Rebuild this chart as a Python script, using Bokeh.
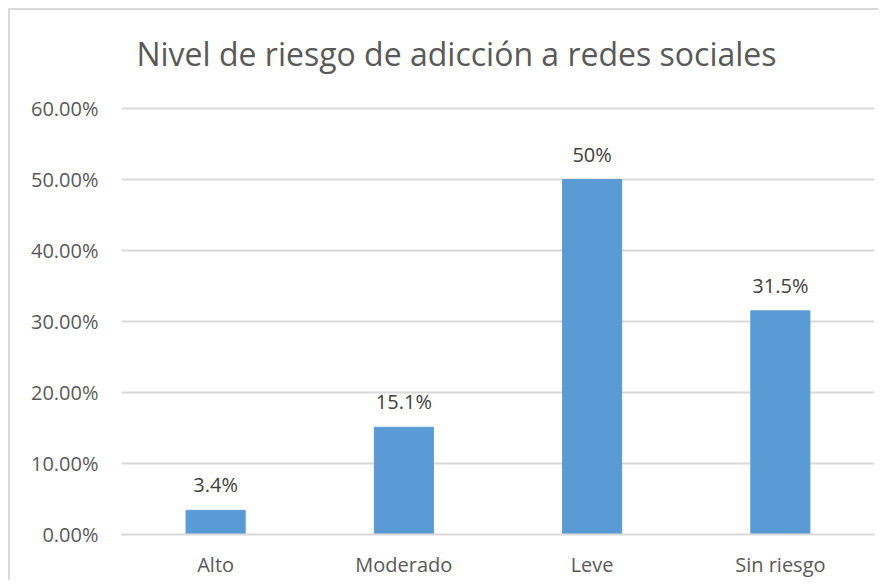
from bokeh.plotting import figure
from bokeh.models import ColumnDataSource, Range1d, NumeralTickFormatter, LabelSet, FixedTicker, Label
from bokeh.core.properties import value
from bokeh.embed import file_html
from bokeh.resources import INLINE

title_text = "Nivel de riesgo de adicción a redes sociales"
categories = ["Alto", "Moderado", "Leve", "Sin riesgo"]
values = [0.034, 0.151, 0.50, 0.315]
labels = ["3.4%", "15.1%", "50%", "31.5%"]
y_ticks = [0.0, 0.1, 0.2, 0.3, 0.4, 0.5, 0.6]

FONT = "Open Sans"
W, H = 870, 572
BOTTOM = 48
FRAME_H = H - BOTTOM          # frame spans full height above the x axis
AXIS_H = 426                  # pixels used by 0..60%
src = ColumnDataSource(dict(cat=categories, val=values, lab=labels))

p = figure(x_range=categories, y_range=Range1d(0, 0.6 * FRAME_H / AXIS_H), width=W, height=H,
           output_backend="svg", toolbar_location=None,
           min_border_left=111, min_border_right=6, min_border_top=0, min_border_bottom=BOTTOM)

p.vbar(x="cat", top="val", width=0.314, source=src, color="#5b9bd5")
p.add_layout(LabelSet(x="cat", y="val", text="lab", source=src, text_align="center",
                      text_baseline="bottom", y_offset=12, text_font=value(FONT),
                      text_font_size=value("20px"), text_color="#404040"))

# title placed in screen units (relative to the plot frame's bottom-left)
p.add_layout(Label(x=335, y=481, x_units="screen", y_units="screen", text=title_text,
                   text_align="center", text_baseline="alphabetic", text_font=FONT,
                   text_font_size="32px", text_color="#595959"))

p.yaxis.ticker = FixedTicker(ticks=y_ticks)
p.yaxis.formatter = NumeralTickFormatter(format="0.00%")
for ax in (p.xaxis, p.yaxis):
    ax.axis_line_color = None
    ax.major_tick_line_color = None
    ax.minor_tick_line_color = None
    ax.major_label_text_font = FONT
    ax.major_label_text_font_size = "20px"
    ax.major_label_text_color = "#595959"
p.xaxis.axis_line_color = "#d9d9d9"
p.xaxis.axis_line_width = 2
p.xaxis.major_label_standoff = 10
p.yaxis.major_label_standoff = 17

p.xgrid.grid_line_color = None
p.ygrid.grid_line_color = "#d9d9d9"
p.ygrid.grid_line_width = 2
p.ygrid.ticker = FixedTicker(ticks=y_ticks)
p.outline_line_color = None
p.styles = {"border-top": "2px solid #d9d9d9", "border-left": "2px solid #d9d9d9",
            "margin-left": "8px", "margin-top": "8px"}

open("out.html", "w").write(file_html(p, INLINE))
